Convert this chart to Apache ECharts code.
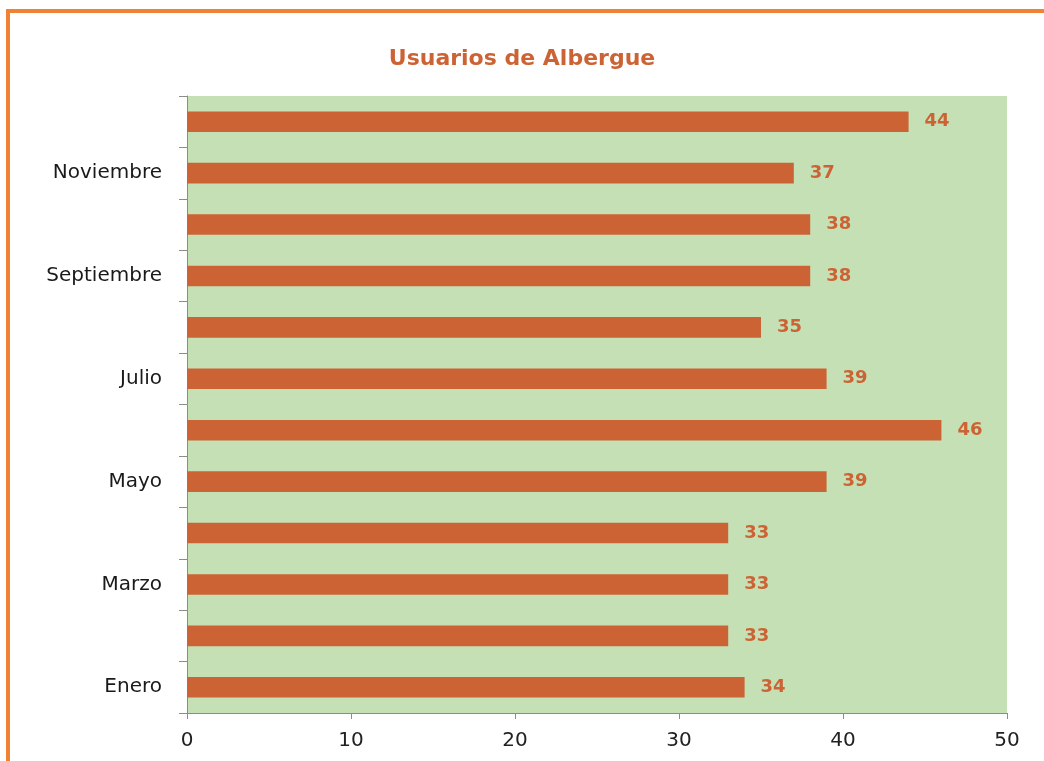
<!DOCTYPE html>
<html>
<head>
<meta charset="utf-8">
<script src="https://cdn.jsdelivr.net/npm/echarts@6/dist/echarts.min.js"></script>
<style>
html, body { margin: 0; padding: 0; background: #fff; }
#main { width: 1044px; height: 761px; }
</style>
</head>
<body>
<div id="main"></div>
<script>
// meses y usuarios
var meses = ['Enero', 'Febrero', 'Marzo', 'Abril', 'Mayo', 'Junio', 'Julio', 'Agosto', 'Septiembre', 'Octubre', 'Noviembre', 'Diciembre'];
var usuarios = [34, 33, 33, 33, 39, 46, 39, 35, 38, 38, 37, 44];
var xTicks = [0, 10, 20, 30, 40, 50];

var naranja = '#cc6335';
var fuente = 'DejaVu Sans';
var myChart = echarts.init(document.getElementById('main'));
var option = {
    backgroundColor: '#ffffff',
    animation: false,
    title: {
        text: 'Usuarios de Albergue',
        left: 'center',
        top: 43,
        textStyle: {
            color: naranja,
            fontSize: 22,
            fontWeight: 'bold',
            fontFamily: fuente
        }
    },
    graphic: [
        {
            type: 'rect',
            shape: { x: 8, y: 11, width: 1100, height: 800 },
            style: { fill: 'none', stroke: '#f08234', lineWidth: 4 },
            silent: true
        }
    ],
    grid: {
        left: 187,
        right: 37,
        top: 96,
        bottom: 48,
        show: true,
        backgroundColor: '#c5e0b4',
        borderWidth: 0
    },
    xAxis: {
        type: 'value',
        min: xTicks[0],
        max: xTicks[xTicks.length - 1],
        interval: 10,
        splitLine: { show: false },
        axisLine: { show: true, lineStyle: { color: '#8c8c8c' } },
        axisTick: { show: true, length: 6, lineStyle: { color: '#8c8c8c' } },
        axisLabel: {
            color: '#222',
            fontSize: 20,
            fontFamily: fuente,
            margin: 18
        }
    },
    yAxis: {
        type: 'category',
        data: meses,
        axisLine: { show: true, lineStyle: { color: '#8c8c8c' } },
        axisTick: { show: true, interval: 0, length: 8, lineStyle: { color: '#8c8c8c' } },
        axisLabel: {
            interval: 1,
            color: '#1a1a1a',
            fontSize: 20,
            fontFamily: fuente,
            margin: 25
        }
    },
    series: [
        {
            name: 'Usuarios',
            type: 'bar',
            data: usuarios,
            barWidth: '40%',
            itemStyle: { color: naranja },
            label: {
                show: true,
                position: 'right',
                distance: 16,
                color: naranja,
                fontSize: 18,
                fontWeight: 'bold',
                fontFamily: fuente
            }
        }
    ]
};
myChart.setOption(option);
</script>
</body>
</html>
